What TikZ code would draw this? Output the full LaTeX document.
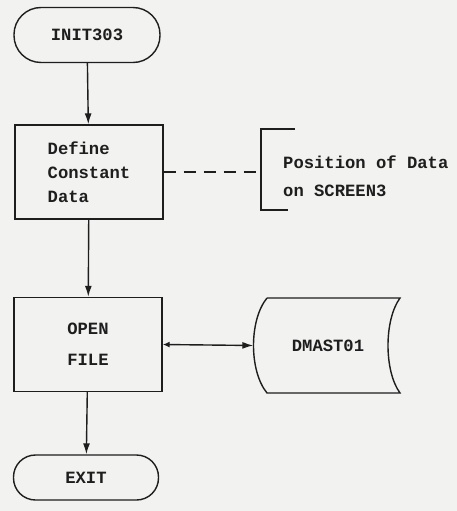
\documentclass[tikz,border=0pt]{standalone}
\usepackage{fontspec}
\setmonofont{Liberation Mono}
\usetikzlibrary{arrows.meta,calc}
\definecolor{paper}{RGB}{242,242,240}
\definecolor{ink}{RGB}{30,30,30}
\tikzset{
  base/.style={draw=ink, line width=1.4pt, text=ink, font=\ttfamily\bfseries\fontsize{17.2}{24}\selectfont, inner sep=0pt},
  term/.style={base, rounded corners=22pt, minimum width=146pt, minimum height=50pt},
  proc/.style={base, minimum width=148pt, minimum height=94pt, align=left},
  conn/.style={draw=ink, line width=1.4pt, -{Latex[length=11pt,width=7pt]}},
  txt/.style={text=ink, font=\ttfamily\bfseries\fontsize{17.2}{28}\selectfont, inner sep=0pt, align=left}
}
\begin{document}
\begin{tikzpicture}[x=1pt,y=-1pt]
\fill[paper] (0,0) rectangle (457,511);
\useasboundingbox (0,0) rectangle (457,511);

\node[term, minimum height=55pt, rounded corners=27pt] (init) at (87,35) {INIT303};
\node[proc] (def) at (89,172) {Define\\Constant\\Data};
\node[proc, align=center, font=\ttfamily\bfseries\fontsize{17.2}{31}\selectfont] (open) at (88,344.5) {OPEN\\FILE};
\node[term, minimum width=145pt, minimum height=45pt] (exit) at (86,477.5) {EXIT};

% stored data
\node[base, draw=none, minimum width=148pt, minimum height=95pt] (dm) at (328,345.5) {DMAST01};
\draw[ink, line width=1.4pt]
  (267,298) -- (400,298)
  .. controls (384,320) and (384,371) .. (400,393)
  -- (267,393)
  .. controls (249,371) and (249,320) .. (267,298);

% annotation
\coordinate (bt) at (261,129);
\coordinate (bb) at (261,210);
\coordinate (bm) at (261,172);
\draw[ink, line width=1.4pt] ($(bt)+(34,0)$) -- (bt) -- (bb) -- ($(bb)+(27,0)$);
\node[txt, anchor=west] (note) at (283,176) {Position of Data\\on SCREEN3};
\draw[ink, line width=1.4pt, dash pattern=on 12pt off 8pt] (def.east |- bm) -- (bm);

% connectors
\draw[conn] (init) -- (def);
\draw[conn] (def) -- (open);
\draw[conn] (open) -- (exit);
\draw[conn, {Latex[length=7pt,width=6pt]}-{Latex[length=11pt,width=7pt]}] (open.east) -- (dm.west);
\end{tikzpicture}
\end{document}
